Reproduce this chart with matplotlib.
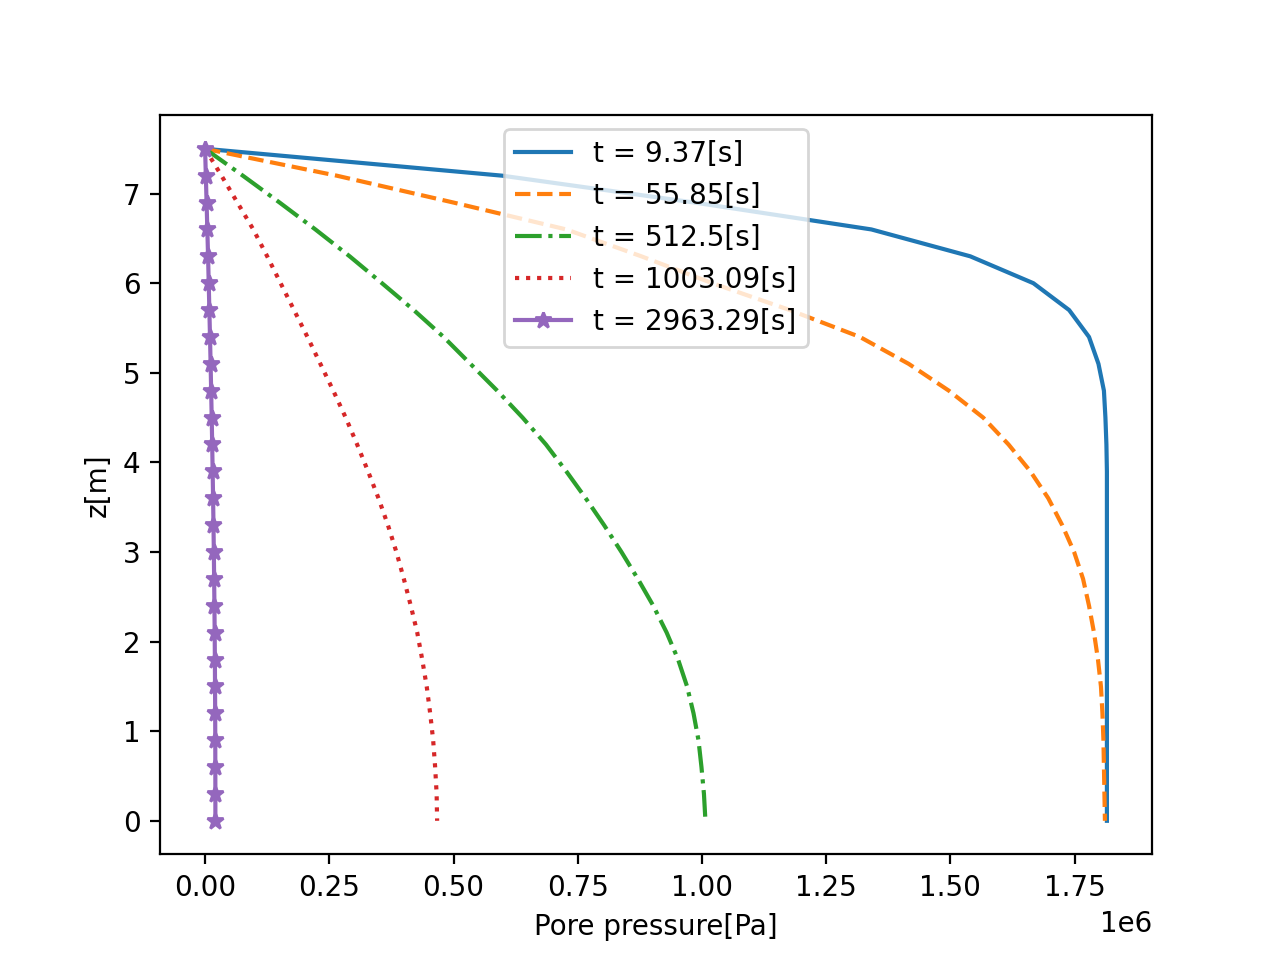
import numpy as np
import matplotlib
matplotlib.use("Agg")
import matplotlib.pyplot as plt

# depth of the nodes, top (drained) to bottom
z = [7.5, 7.2, 6.9, 6.6, 6.3, 6.0, 5.7, 5.4, 5.1, 4.8, 4.5, 4.2, 3.9,
     3.6, 3.3, 3.0, 2.7, 2.4, 2.1, 1.8, 1.5, 1.2, 0.9, 0.6, 0.3, 0.0]

times = ["9.37", "55.85", "512.5", "1003.09", "2963.29"]

# pore pressure in 1e6 Pa
p_t1 = [0.0, 0.598, 0.985, 1.341, 1.540, 1.667, 1.739, 1.779, 1.798, 1.809, 1.812, 1.814, 1.815,
        1.815, 1.815, 1.815, 1.815, 1.815, 1.815, 1.815, 1.815, 1.815, 1.815, 1.815, 1.815, 1.815]
p_t2 = [0.0, 0.265, 0.500, 0.727, 0.878, 1.021, 1.177, 1.318, 1.416, 1.497, 1.566, 1.617, 1.661,
        1.697, 1.725, 1.749, 1.767, 1.779, 1.789, 1.797, 1.803, 1.806, 1.808, 1.809, 1.810, 1.811]
p_t3 = [0.0, 0.076, 0.150, 0.222, 0.291, 0.356, 0.420, 0.480, 0.534, 0.588, 0.639, 0.686, 0.727,
        0.766, 0.803, 0.838, 0.871, 0.902, 0.929, 0.952, 0.970, 0.983, 0.993, 0.999, 1.004, 1.007]
p_t4 = [0.0, 0.033, 0.065, 0.097, 0.125, 0.152, 0.179, 0.206, 0.232, 0.258, 0.283, 0.306, 0.328,
        0.349, 0.368, 0.385, 0.400, 0.414, 0.427, 0.437, 0.446, 0.453, 0.459, 0.463, 0.466, 0.467]
p_t5 = [0.0, 0.0015, 0.003, 0.0045, 0.006, 0.0073, 0.0086, 0.0099, 0.0111, 0.0122, 0.0133, 0.0143, 0.0152,
        0.0161, 0.0169, 0.0176, 0.0182, 0.0188, 0.0193, 0.0197, 0.0200, 0.0203, 0.0205, 0.0206, 0.0207, 0.0207]

series = [p_t1, p_t2, p_t3, p_t4, p_t5]
styles = ["-", "--", "-.", ":", "-*"]

fig, ax = plt.subplots(figsize=(6.4, 4.8), dpi=200)
for p, t, st in zip(series, times, styles):
    ax.plot(np.array(p) * 1e6, z, st, label="t = " + t + "[s]")

ax.set_xlabel("Pore pressure[Pa]")
ax.set_ylabel("z[m]")
ax.legend(loc="upper center")

fig.savefig("out.png")
